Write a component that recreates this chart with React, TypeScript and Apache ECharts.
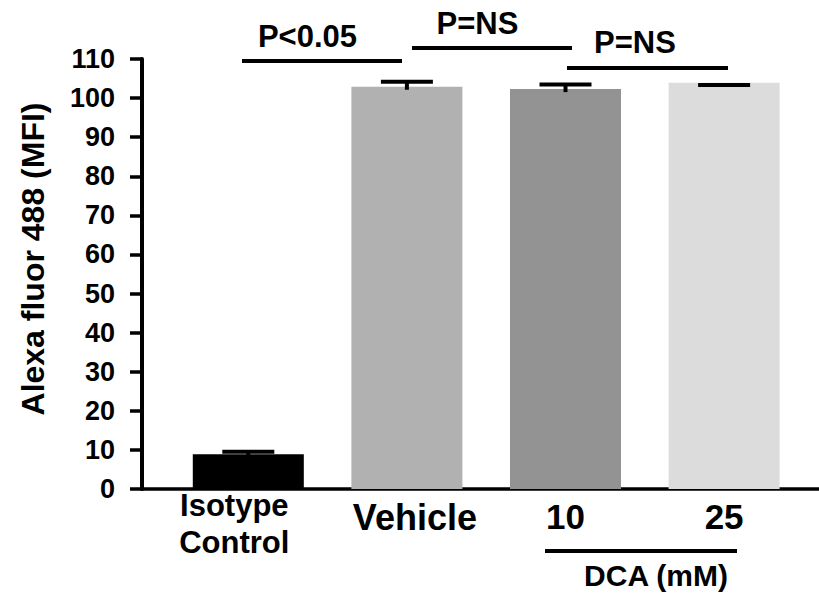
import React, { useEffect, useRef } from "react";
import * as echarts from "echarts";

const categories = ["Isotype\nControl", "Vehicle", "10", "25"];
const means = [8.9, 102.9, 102.3, 103.9];
const errTops = [9.5, 104.2, 103.5, 103.35];
const barColors = ["#000000", "#b1b1b1", "#939393", "#dcdcdc"];
const yMin = 0;
const yMax = 110;
const yInterval = 10;
const yTitle = "Alexa fluor 488 (MFI)";
const sigLabels = ["P<0.05", "P=NS", "P=NS"];
const groupLabel = "DCA (mM)";

const FONT = '"Liberation Sans", Arial, Helvetica, sans-serif';

export default function App() {
  const ref = useRef<HTMLDivElement>(null);
  useEffect(() => {
    if (!ref.current) return;
    const chart = echarts.init(ref.current, null, { renderer: "svg" });
    const gridTop = 59;
    const gridBottom = 105;
    const txt = (text: string, x: number, y: number, size: number, rot = 0) => ({
      type: "text",
      x,
      y,
      rotation: rot,
      style: {
        text,
        fontSize: size,
        fontWeight: "bold",
        fontFamily: FONT,
        fill: "#000",
        align: "center",
        verticalAlign: "middle",
      },
    });
    const hline = (x1: number, x2: number, y: number) => ({
      type: "line",
      shape: { x1, y1: y, x2, y2: y },
      style: { stroke: "#000", lineWidth: 4 },
    });
    chart.setOption({
      animation: false,
      backgroundColor: "#ffffff",
      grid: [
        { left: 142, right: 0, top: gridTop, bottom: gridBottom },
        { left: 169, right: 15.6, top: gridTop, bottom: gridBottom },
      ],
      xAxis: [
        {
          type: "value",
          gridIndex: 0,
          min: 0,
          max: 1,
          axisLine: { show: true, lineStyle: { color: "#000", width: 3.5 } },
          axisTick: { show: false },
          axisLabel: { show: false },
          splitLine: { show: false },
        },
        {
          type: "category",
          gridIndex: 1,
          data: categories,
          axisLine: { show: false },
          axisTick: { show: false },
          axisLabel: {
            interval: 0,
            margin: 2,
            verticalAlign: "top",
            color: "#000",
            fontFamily: FONT,
            fontWeight: "bold",
            formatter: (v: string, i: number) => {
              if (v.indexOf("\n") >= 0) {
                return v
                  .split("\n")
                  .map((s) => `{a|${s}}`)
                  .join("\n");
              }
              return i === 1 ? `{v|${v}}` : `{b|${v}}`;
            },
            rich: {
              a: {
                fontSize: 31,
                lineHeight: 37,
                fontWeight: "bold",
                fontFamily: FONT,
                color: "#000",
                padding: [-4, 28, 4, 0],
              },
              v: {
                fontSize: 36,
                lineHeight: 52,
                fontWeight: "bold",
                fontFamily: FONT,
                color: "#000",
                padding: [0, 0, 0, 16],
              },
              b: {
                fontSize: 35,
                lineHeight: 50,
                fontWeight: "bold",
                fontFamily: FONT,
                color: "#000",
              },
            },
          },
        },
      ],
      yAxis: [
        {
          type: "value",
          gridIndex: 0,
          min: yMin,
          max: yMax,
          interval: yInterval,
          axisLine: { show: true, lineStyle: { color: "#000", width: 4 } },
          axisTick: { show: true, length: 12, lineStyle: { color: "#000", width: 3.5 } },
          axisLabel: {
            margin: 27,
            color: "#000",
            fontSize: 27,
            fontWeight: "bold",
            fontFamily: FONT,
          },
          splitLine: { show: false },
        },
        {
          type: "value",
          gridIndex: 1,
          min: yMin,
          max: yMax,
          interval: yInterval,
          show: false,
          splitLine: { show: false },
        },
      ],
      series: [
        {
          type: "bar",
          xAxisIndex: 1,
          yAxisIndex: 1,
          barWidth: "70%",
          z: 2,
          data: means.map((m, i) => ({ value: m, itemStyle: { color: barColors[i] } })),
        },
        {
          type: "custom",
          xAxisIndex: 1,
          yAxisIndex: 1,
          z: 10,
          encode: { x: 0, y: 1 },
          data: means.map((m, i) => [i, m, errTops[i]]),
          renderItem: (params: any, api: any) => {
            const x = api.value(0);
            const mean = api.value(1);
            const top = api.value(2);
            const pTop = api.coord([x, top]);
            const pMean = api.coord([x, mean]);
            const half = 26;
            const stemEnd = Math.max(pTop[1], pMean[1] + 3);
            return {
              type: "group",
              children: [
                {
                  type: "line",
                  shape: { x1: pTop[0] - half, y1: pTop[1], x2: pTop[0] + half, y2: pTop[1] },
                  style: { stroke: "#000", lineWidth: 4 },
                },
                {
                  type: "line",
                  shape: { x1: pTop[0], y1: pTop[1], x2: pTop[0], y2: stemEnd },
                  style: { stroke: "#000", lineWidth: 4 },
                },
              ],
            };
          },
        },
      ],
      graphic: [
        hline(242, 402, 61),
        txt(sigLabels[0], 307.5, 36, 31),
        hline(412, 572, 48),
        txt(sigLabels[1], 477.5, 23, 31),
        hline(567, 728, 68),
        txt(sigLabels[2], 635, 42, 31),
        hline(545, 737, 551),
        txt(groupLabel, 656, 575, 30),
        txt(yTitle, 33, 259, 32, Math.PI / 2),
      ],
    });
    return () => chart.dispose();
  }, []);
  return (
    <div
      ref={ref}
      style={{ position: "fixed", left: 0, top: 0, width: 819, height: 594 }}
    />
  );
}
